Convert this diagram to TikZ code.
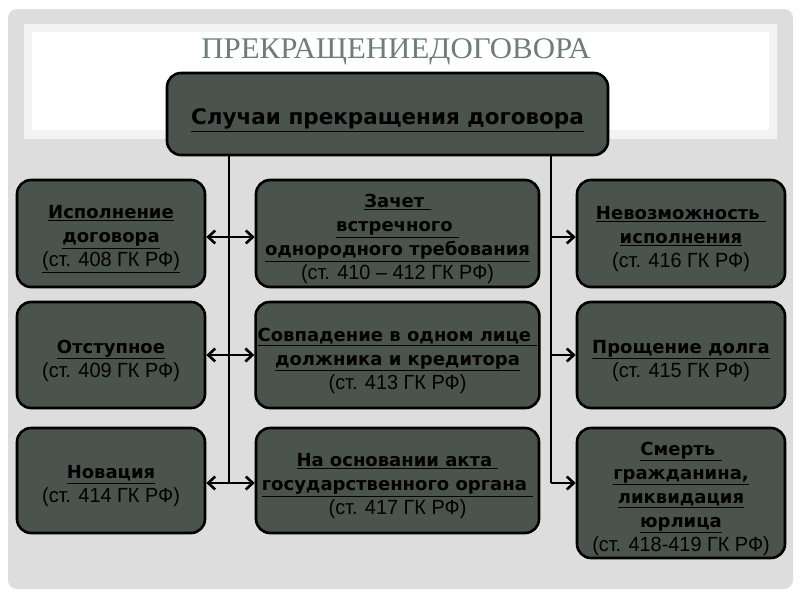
\documentclass[tikz,border=0pt]{standalone}
\usepackage{fontspec}
\setmainfont{DejaVu Sans}
\newfontfamily\titlefont[FakeStretch=1.03]{Liberation Serif}
\newfontfamily\narrowfont[FakeStretch=0.97]{Liberation Sans}
\usetikzlibrary{positioning, arrows.meta, calc}
\definecolor{boxfill}{HTML}{4B534D}
\definecolor{panelgrey}{HTML}{DDDDDD}
\definecolor{bandframe}{HTML}{F3F3F3}
\definecolor{titlegrey}{HTML}{6E7E77}
\newcommand{\art}[1]{{\narrowfont\mdseries\fontsize{20.5}{24}\selectfont #1}}
\newcommand{\hd}[1]{\underline{#1}}
\newcommand{\lead}{\rule{0pt}{25pt}}

\begin{document}
\begin{tikzpicture}[
    x=1pt, y=-1pt,
    casebox/.style={rectangle, draw=black, fill=boxfill, line width=2.6pt,
                    rounded corners=14pt, align=center, inner sep=2pt,
                    font=\bfseries\fontsize{18}{24}\selectfont},
    link/.style={line width=2.6pt, draw=black},
    >={Straight Barb[length=7pt, width=13pt, line width=2.6pt]}
]
    \useasboundingbox (0,0) rectangle (800,600);

    % --- background panel and title band ---
    \fill[panelgrey, rounded corners=9pt] (8,9) rectangle (793,589);
    \fill[bandframe] (24,24) rectangle (777,139);
    \fill[white] (32,32) rectangle (769,130);
    \node[text=titlegrey, anchor=base, font=\titlefont\fontsize{30}{32}\selectfont] (title) at (396,58)
      {ПРЕКРАЩЕНИЕДОГОВОРА};

    % --- top box ---
    \node[casebox, minimum width=441pt, minimum height=82pt,
          font=\bfseries\fontsize{21.5}{24}\selectfont] (top) at (387.5,114)
      {\rule{0pt}{28pt}\hd{Случаи прекращения договора}};

    % --- left column ---
    \node[casebox, minimum width=188pt, minimum height=107pt] (ispoln) at (111,233.5)
      {\lead\hd{Исполнение}\\ \hd{договора}\\ \art{\hd{(ст. 408 ГК РФ)}}};
    \node[casebox, minimum width=188pt, minimum height=106pt] (otstup) at (111,355)
      {\lead\hd{Отступное}\\ \art{(ст. 409 ГК РФ)}};
    \node[casebox, minimum width=188pt, minimum height=105pt] (novac) at (111,480.5)
      {\lead\hd{Новация}\\ \art{(ст. 414 ГК РФ)}};

    % --- middle column ---
    \node[casebox, minimum width=283pt, minimum height=107pt] (zachet) at (397.5,233.5)
      {\lead\hd{Зачет\ }\\ \hd{встречного\ }\\ \hd{однородного требования}\\ \art{(ст. 410 – 412 ГК РФ)}};
    \node[casebox, minimum width=283pt, minimum height=106pt] (sovpad) at (397.5,355)
      {\lead\hd{Совпадение в одном лице\ }\\ \hd{должника и кредитора}\\ \art{(ст. 413 ГК РФ)}};
    \node[casebox, minimum width=283pt, minimum height=105pt] (gosakt) at (397.5,480.5)
      {\lead\hd{На основании акта\ }\\ \hd{государственного органа\ }\\ \art{(ст. 417 ГК РФ)}};

    % --- right column ---
    \node[casebox, minimum width=208pt, minimum height=107pt] (nevozm) at (681,233.5)
      {\lead\hd{Невозможность\ }\\ \hd{исполнения}\\ \art{(ст. 416 ГК РФ)}};
    \node[casebox, minimum width=208pt, minimum height=106pt] (proshch) at (681,355)
      {\lead\hd{Прощение долга}\\ \art{(ст. 415 ГК РФ)}};
    \node[casebox, minimum width=208pt, minimum height=130pt] (smert) at (681,493)
      {\lead\hd{Смерть\ }\\ \hd{гражданина,}\\ \hd{ликвидация}\\ \hd{юрлица}\\ \art{(ст. 418-419 ГК РФ)}};

    % trunk lines
    \coordinate (lv) at (229,483);
    \coordinate (rv) at (551,483);
    \draw[link] (top.south -| lv) -- (lv);
    \draw[link] (top.south -| rv) -- (rv);

    % left <-> middle
    \draw[link, <->] (ispoln.east |- 0,237) -- (zachet.west |- 0,237);
    \draw[link, <->] (otstup.east) -- (sovpad.west);
    \draw[link, <->] (novac.east |- lv) -- (gosakt.west |- lv);

    % trunk -> right
    \draw[link, ->] (rv |- 0,237) -- (nevozm.west |- 0,237);
    \draw[link, ->] (rv |- proshch.west) -- (proshch.west);
    \draw[link, ->] (rv) -- (smert.west |- rv);

\end{tikzpicture}
\end{document}
